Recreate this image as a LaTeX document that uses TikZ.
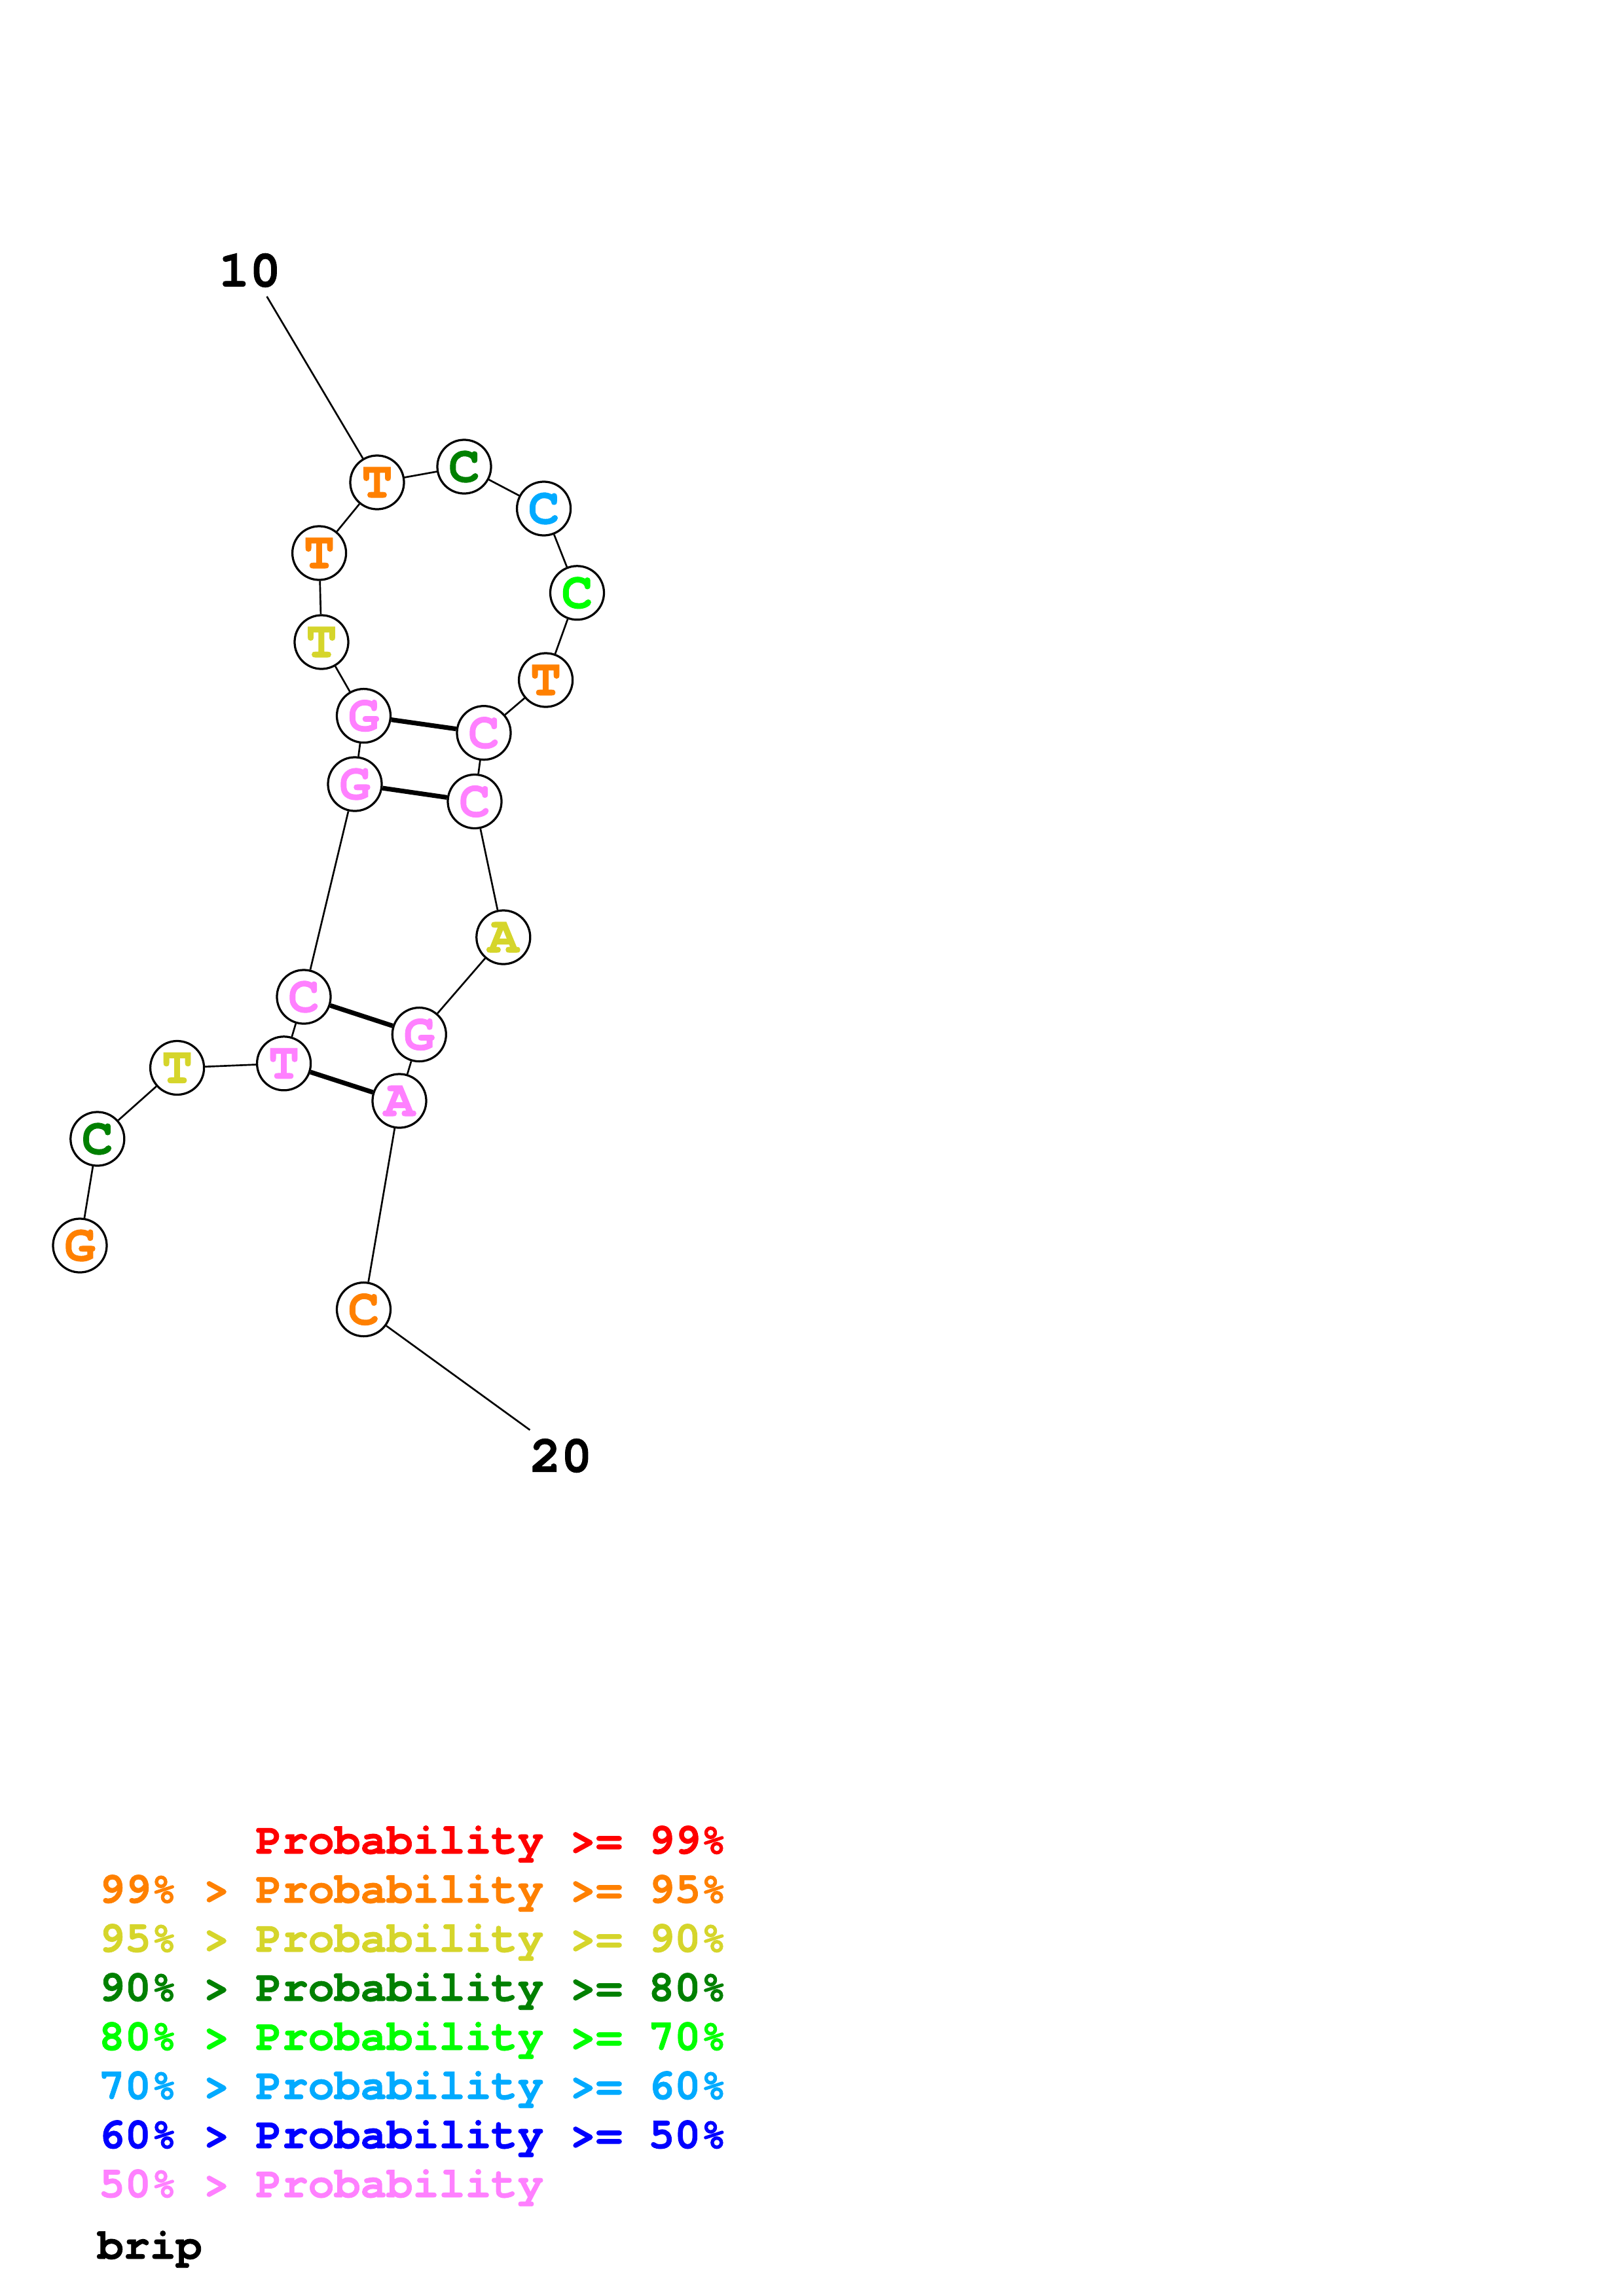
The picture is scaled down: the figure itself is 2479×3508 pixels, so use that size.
\documentclass[tikz,border=0pt]{standalone}
\usepackage{fontspec}
\setmainfont{texgyrecursor}[Extension=.otf,UprightFont=*-regular,BoldFont=*-bold,ItalicFont=*-italic,BoldItalicFont=*-bolditalic,BoldFeatures={FakeBold=1.2}]
\definecolor{cRed}{RGB}{255,0,0}
\definecolor{cOra}{RGB}{255,128,0}
\definecolor{cYel}{RGB}{213,213,43}
\definecolor{cDGr}{RGB}{0,128,0}
\definecolor{cBGr}{RGB}{0,255,0}
\definecolor{cCya}{RGB}{0,170,255}
\definecolor{cBlu}{RGB}{0,0,255}
\definecolor{cPin}{RGB}{255,128,255}
\begin{document}
\begin{tikzpicture}[x=0.24013pt,y=-0.24013pt,
  nt/.style={circle,draw=black,fill=white,line width=0.78pt,minimum size=19.7pt,inner sep=0pt,
    font=\fontsize{19}{19}\selectfont\bfseries},
  bb/.style={draw=black,line width=0.64pt},
  pr/.style={draw=black,line width=1.7pt},
  lab/.style={font=\fontsize{19}{19}\selectfont\bfseries,inner sep=0pt},
  leg/.style={anchor=base west,inner sep=0pt,font=\fontsize{16}{16}\selectfont\bfseries}]
\useasboundingbox (0,0) rectangle (2479,3508);
\coordinate (e10) at (407.6,453);
\coordinate (e20) at (809.4,2184.8);
\node[nt,text=cOra] (n1) at (122,1903) {G};
\node[nt,text=cDGr] (n2) at (148.8,1740) {C};
\node[nt,text=cYel] (n3) at (270.6,1631.5) {T};
\node[nt,text=cPin] (n4) at (433.6,1624.8) {T};
\node[nt,text=cPin] (n5) at (464,1523) {C};
\node[nt,text=cPin] (n6) at (542,1198) {G};
\node[nt,text=cPin] (n7) at (555.5,1093.6) {G};
\node[nt,text=cYel] (n8) at (491,981) {T};
\node[nt,text=cOra] (n9) at (487.6,845) {T};
\node[nt,text=cOra] (n10) at (576,737) {T};
\node[nt,text=cDGr] (n11) at (709,713) {C};
\node[nt,text=cCya] (n12) at (830.6,777) {C};
\node[nt,text=cBGr] (n13) at (881.5,905.8) {C};
\node[nt,text=cOra] (n14) at (833.6,1039) {T};
\node[nt,text=cPin] (n15) at (739,1119.7) {C};
\node[nt,text=cPin] (n16) at (725,1224.5) {C};
\node[nt,text=cYel] (n17) at (768.8,1432) {A};
\node[nt,text=cPin] (n18) at (640.3,1580.6) {G};
\node[nt,text=cPin] (n19) at (610,1682) {A};
\node[nt,text=cOra] (n20) at (555.5,2000.6) {C};
\foreach \i/\j in {1/2,2/3,3/4,4/5,5/6,6/7,7/8,8/9,9/10,10/11,11/12,12/13,13/14,14/15,15/16,16/17,17/18,18/19,19/20}
  \draw[bb] (n\i) -- (n\j);
\draw[pr] (n4) -- (n19);
\draw[pr] (n5) -- (n18);
\draw[pr] (n6) -- (n16);
\draw[pr] (n7) -- (n15);
\draw[bb] (n10) -- (e10);
\draw[bb] (n20) -- (e20);
\node[lab] (l10) at (381.5,413) {10};
\node[lab] (l20) at (857,2224) {20};
\node[leg,text=cRed] (r1) at (150,2832) {\hphantom{99\% > }Probability >= 99\%};
\node[leg,text=cOra] (r2) at (150,2907) {99\% > Probability >= 95\%};
\node[leg,text=cYel] (r3) at (150,2982) {95\% > Probability >= 90\%};
\node[leg,text=cDGr] (r4) at (150,3057) {90\% > Probability >= 80\%};
\node[leg,text=cBGr] (r5) at (150,3132) {80\% > Probability >= 70\%};
\node[leg,text=cCya] (r6) at (150,3207) {70\% > Probability >= 60\%};
\node[leg,text=cBlu] (r7) at (150,3282) {60\% > Probability >= 50\%};
\node[leg,text=cPin] (r8) at (150,3357) {50\% > Probability};
\node[leg,text=black] (brip) at (148,3451) {brip};
\end{tikzpicture}
\end{document}
